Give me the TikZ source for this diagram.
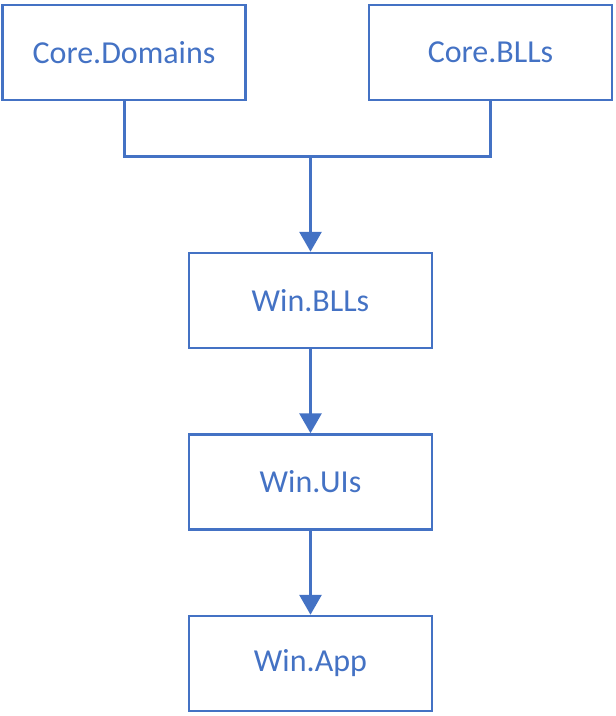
\documentclass[tikz,border=0pt]{standalone}
\usepackage{fontspec}
\setmainfont{Carlito}
\usetikzlibrary{arrows.meta}
\definecolor{wblue}{HTML}{4472C4}
\begin{document}
\begin{tikzpicture}[x=1pt,y=-1pt,
  box/.style={draw=wblue,line width=2.5pt,minimum width=243pt,minimum height=95pt,inner sep=0pt,text=wblue,font=\fontsize{32}{38}\selectfont},
  conn/.style={draw=wblue,line width=3pt},
  arr/.style={conn,-{Triangle[width=22pt,length=20pt]}}]
\useasboundingbox (0,0) rectangle (616,716);
\node[box] (cd) at (124,52.5) {Core.Domains};
\node[box] (cb) at (490.5,52.5) {Core.BLLs};
\node[box] (wb) at (310.5,300.5) {Win.BLLs};
\node[box] (wu) at (310.5,482) {Win.UIs};
\node[box] (wa) at (310.5,663.5) {Win.App};
\coordinate (j) at (310.5,156);
\draw[conn] (cd.south) |- (j) -| (cb.south);
\draw[arr] (j) -- (wb.north);
\draw[arr] (wb) -- (wu);
\draw[arr] (wu) -- (wa);
\end{tikzpicture}
\end{document}
